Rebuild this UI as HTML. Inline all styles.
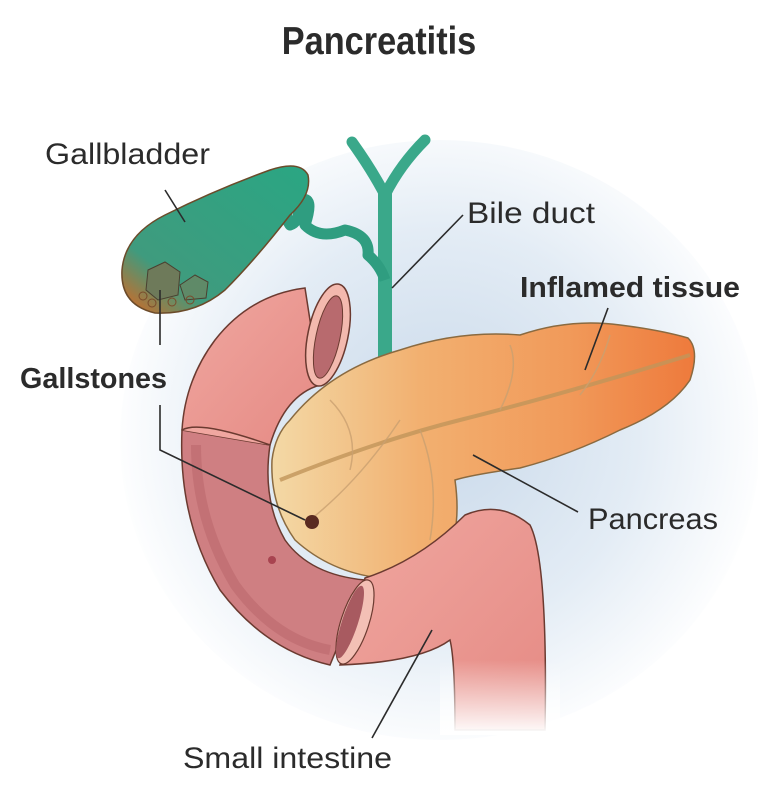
<!DOCTYPE html>
<html><head><meta charset="utf-8"><style>
html,body{margin:0;padding:0;background:#fff;}
svg{display:block}
text{font-family:"Liberation Sans",sans-serif;fill:#2b2b2b}
</style></head><body>
<svg width="758" height="802" viewBox="0 0 758 802" xmlns="http://www.w3.org/2000/svg">
<defs>
<radialGradient id="bg" cx="440" cy="430" r="330" gradientUnits="userSpaceOnUse">
<stop offset="0" stop-color="#c9d9ea"/><stop offset="0.6" stop-color="#e3ecf5"/><stop offset="1" stop-color="#ffffff"/>
</radialGradient>
<linearGradient id="gb" x1="0" y1="1" x2="1" y2="0">
<stop offset="0" stop-color="#e0641c"/><stop offset="0.25" stop-color="#3f9b7e"/><stop offset="1" stop-color="#2aa683"/>
</linearGradient>
<linearGradient id="pan" x1="0" y1="0" x2="1" y2="0">
<stop offset="0" stop-color="#f3d9a6"/><stop offset="0.35" stop-color="#f2b070"/><stop offset="0.7" stop-color="#f19a5a"/><stop offset="1" stop-color="#ee7a3c"/>
</linearGradient>
<linearGradient id="duo" x1="0" y1="0" x2="1" y2="1">
<stop offset="0" stop-color="#f0a7a0"/><stop offset="1" stop-color="#e58a84"/>
</linearGradient>
<linearGradient id="fade" x1="0" y1="0" x2="0" y2="1">
<stop offset="0" stop-color="#fff" stop-opacity="0"/><stop offset="1" stop-color="#fff" stop-opacity="1"/>
</linearGradient>
</defs>
<rect width="758" height="802" fill="#fff"/>
<ellipse cx="440" cy="440" rx="320" ry="300" fill="url(#bg)"/>

<text x="379" y="54" text-anchor="middle" font-size="39" font-weight="bold" transform="translate(379 0) scale(0.88 1) translate(-379 0)">Pancreatitis</text>

<!-- bile duct -->
<path d="M352 142 Q372 170 385 195 Q400 165 425 140" fill="none" stroke="#3aa88a" stroke-width="11" stroke-linecap="round"/>
<path d="M385 190 L385 360" stroke="#3aa88a" stroke-width="14"/>
<path d="M385 360 L355 520" stroke="#9fae85" stroke-width="12" opacity="0.5"/>
<!-- cystic duct -->
<path d="M295 185 Q305 220 290 225 Q280 210 300 200 Q315 195 305 225 Q320 240 345 230 Q370 235 368 255 Q380 265 385 280" fill="none" stroke="#2f9d80" stroke-width="11" stroke-linejoin="round"/>
<!-- gallbladder -->
<path d="M122 270 Q125 235 165 215 Q215 190 270 170 Q300 160 308 175 Q312 195 290 215 Q255 260 225 290 Q195 315 155 313 Q120 305 122 270 Z" fill="url(#gb)" stroke="#6b4b2a" stroke-width="1.5"/>
<path d="M148 270 L165 262 L180 272 L178 295 L158 300 L146 290 Z" fill="#6e7a5a" stroke="#4a4030" stroke-width="1"/>
<path d="M180 285 L195 275 L208 282 L206 298 L185 300 Z" fill="#5f8a68" stroke="#4a4030" stroke-width="1"/>
<circle cx="143" cy="296" r="4" fill="none" stroke="#7a4a2a"/><circle cx="152" cy="303" r="4" fill="none" stroke="#7a4a2a"/><circle cx="172" cy="302" r="4" fill="none" stroke="#7a4a2a"/><circle cx="190" cy="300" r="4" fill="none" stroke="#7a4a2a"/>

<!-- duodenum top tube -->
<path d="M305 288 Q250 295 215 340 Q185 380 182 430 L270 445 Q285 395 320 385 Z" fill="url(#duo)" stroke="#6b3a30" stroke-width="1.5"/>
<ellipse cx="328" cy="335" rx="20" ry="52" transform="rotate(12 328 335)" fill="#f3b9ae" stroke="#6b3a30" stroke-width="1.5"/>
<ellipse cx="328" cy="337" rx="12" ry="42" transform="rotate(12 328 337)" fill="#b86a6e" stroke="#6b3a30" stroke-width="1"/>

<!-- pancreas -->
<path d="M290 420 Q330 370 400 350 Q460 330 520 335 Q570 318 620 325 Q660 330 688 338 Q700 350 690 380 Q670 410 620 430 Q570 455 520 468 Q470 475 455 480 Q462 530 445 560 Q420 582 380 578 Q330 572 295 540 Q270 505 272 460 Q275 435 290 420 Z" fill="url(#pan)" stroke="#8a6a40" stroke-width="1.5"/>
<path d="M280 480 Q380 440 460 420 Q560 395 690 355" fill="none" stroke="#c0955a" stroke-width="4" opacity="0.8"/>
<path d="M310 520 Q360 480 400 420 M420 430 Q440 480 430 540 M330 400 Q360 430 350 470 M500 410 Q520 370 510 345 M580 395 Q600 370 610 335" fill="none" stroke="#c9a070" stroke-width="1.5" opacity="0.8"/>

<!-- duodenum C lower with cut -->
<path d="M182 430 Q178 520 220 590 Q265 650 330 665 L365 580 Q310 575 285 540 Q262 500 270 445 Z" fill="#cf7f82" stroke="#6b3a30" stroke-width="1.5"/>
<path d="M196 445 Q196 520 235 585 Q275 640 330 650" fill="none" stroke="#b86468" stroke-width="10" opacity="0.5"/>
<path d="M182 430 Q200 420 270 445" fill="#f0a7a0" stroke="#6b3a30" stroke-width="1.5"/>
<circle cx="312" cy="522" r="7" fill="#5a2a20"/>
<circle cx="272" cy="560" r="4" fill="#a84450"/>

<!-- jejunum -->
<path d="M365 578 Q420 560 465 515 Q500 500 530 525 Q548 560 545 730 L455 730 Q455 660 450 640 Q420 662 340 665 Z" fill="url(#duo)" stroke="#6b3a30" stroke-width="1.5"/>
<ellipse cx="355" cy="622" rx="14" ry="44" transform="rotate(18 355 622)" fill="#f3c0b5" stroke="#6b3a30" stroke-width="1.2"/>
<ellipse cx="350" cy="622" rx="8" ry="38" transform="rotate(18 350 622)" fill="#a85a60"/>
<rect x="440" y="660" width="120" height="75" fill="url(#fade)"/>

<!-- leader lines -->
<g stroke="#2b2b2b" stroke-width="1.6" fill="none">
<path d="M165 190 L185 222"/>
<path d="M463 215 L392 288"/>
<path d="M608 308 L585 370"/>
<path d="M160 290 L160 345"/>
<path d="M160 405 L160 450 L305 520"/>
<path d="M473 455 L578 512"/>
<path d="M432 630 L372 738"/>
</g>

<text x="45" y="164" font-size="30" textLength="165" lengthAdjust="spacingAndGlyphs">Gallbladder</text>
<text x="467" y="223" font-size="30" textLength="128" lengthAdjust="spacingAndGlyphs">Bile duct</text>
<text x="520" y="297" font-size="29" font-weight="bold" textLength="220" lengthAdjust="spacingAndGlyphs">Inflamed tissue</text>
<text x="20" y="388" font-size="29" font-weight="bold" textLength="147" lengthAdjust="spacingAndGlyphs">Gallstones</text>
<text x="588" y="529" font-size="30" textLength="130" lengthAdjust="spacingAndGlyphs">Pancreas</text>
<text x="183" y="768" font-size="30" textLength="209" lengthAdjust="spacingAndGlyphs">Small intestine</text>
</svg>
</body></html>
